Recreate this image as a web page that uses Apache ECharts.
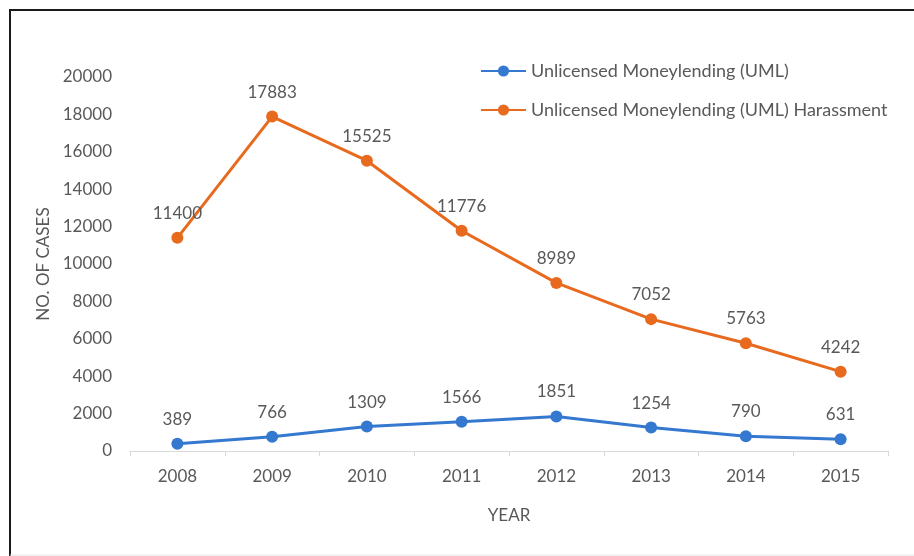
<!DOCTYPE html>
<html>
<head>
<meta charset="utf-8">
<script src="https://cdn.jsdelivr.net/npm/echarts@6/dist/echarts.min.js"></script>
<style>
  html, body { margin: 0; padding: 0; background: #fff; }
  #chart { width: 914px; height: 556px; }
</style>
</head>
<body>
<div id="chart"></div>
<script>
// data
var years = ["2008", "2009", "2010", "2011", "2012", "2013", "2014", "2015"];
var umlCases = [389, 766, 1309, 1566, 1851, 1254, 790, 631];
var harassmentCases = [11400, 17883, 15525, 11776, 8989, 7052, 5763, 4242];
var seriesNames = ["Unlicensed Moneylending (UML)", "Unlicensed Moneylending (UML) Harassment"];

var textColor = "#595959";
var fontFamily = "Lato, 'Open Sans', sans-serif";

var myChart = echarts.init(document.getElementById("chart"));

function lineSeries(name, data, color) {
  return {
    name: name,
    type: "line",
    data: data,
    symbol: "circle",
    symbolSize: 12,
    lineStyle: { width: 3, color: color },
    itemStyle: { color: color },
    label: {
      show: true,
      position: "top",
      distance: 10,
      color: textColor,
      fontSize: 17,
      fontFamily: fontFamily,
    },
    animation: false,
  };
}

var option = {
  backgroundColor: "#fff",
  textStyle: { fontFamily: fontFamily },
  // frame around the chart
  graphic: [
    {
      type: "polyline",
      shape: { points: [[10, 556], [10, 10], [914, 10]] },
      style: { stroke: "#1a1a1a", lineWidth: 2, fill: null },
    },
    {
      type: "line",
      shape: { x1: 10, y1: 555, x2: 914, y2: 555 },
      style: { stroke: "#e6e6e6", lineWidth: 1 },
    },
  ],
  legend: {
    orient: "vertical",
    left: 480,
    top: 62,
    padding: 0,
    itemWidth: 45,
    itemHeight: 14,
    itemGap: 21,
    textStyle: { color: textColor, fontSize: 18, fontFamily: fontFamily },
    data: seriesNames,
  },
  grid: { left: 130, right: 26, top: 77, bottom: 105 },
  xAxis: {
    type: "category",
    data: years,
    boundaryGap: true,
    name: "YEAR",
    nameLocation: "middle",
    nameGap: 56,
    nameTextStyle: { color: textColor, fontSize: 17 },
    axisLine: { lineStyle: { color: "#d9d9d9", width: 1 } },
    axisTick: { show: true, length: 5, lineStyle: { color: "#d9d9d9" } },
    axisLabel: { color: textColor, fontSize: 17, margin: 17 },
  },
  yAxis: {
    type: "value",
    min: 0,
    max: 20000,
    interval: 2000,
    name: "NO. OF CASES",
    nameLocation: "middle",
    nameGap: 78,
    nameTextStyle: { color: textColor, fontSize: 17 },
    axisLine: { show: false },
    axisTick: { show: false },
    splitLine: { show: false },
    axisLabel: {
      color: textColor,
      fontSize: 17,
      margin: 18,
      formatter: function (v) { return String(v); },
    },
  },
  series: [
    lineSeries(seriesNames[0], umlCases, "#3478D0"),
    lineSeries(seriesNames[1], harassmentCases, "#E86A1E"),
  ],
};

myChart.setOption(option);
</script>
</body>
</html>
